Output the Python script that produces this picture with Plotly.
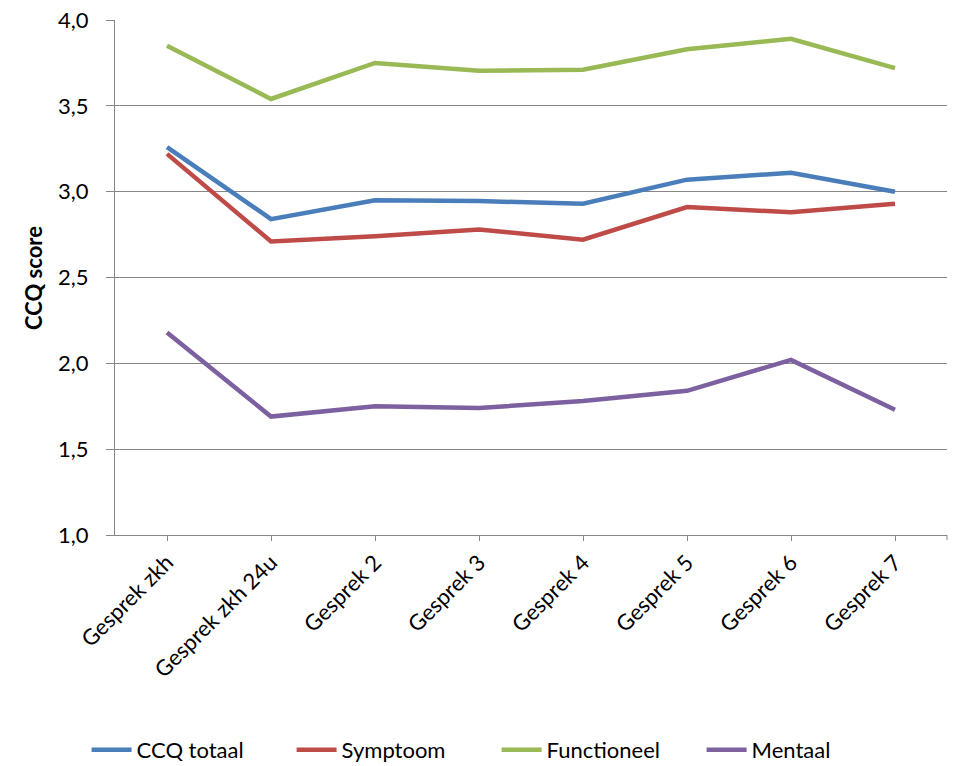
import plotly.graph_objects as go

# Conversation moments (x categories)
moments = ["Gesprek zkh", "Gesprek zkh 24u", "Gesprek 2", "Gesprek 3",
           "Gesprek 4", "Gesprek 5", "Gesprek 6", "Gesprek 7"]

# Mean CCQ scores per domain
ccq_totaal = [3.26, 2.84, 2.95, 2.945, 2.93, 3.07, 3.11, 3.00]
symptoom = [3.22, 2.71, 2.74, 2.78, 2.72, 2.91, 2.88, 2.93]
functioneel = [3.85, 3.54, 3.75, 3.705, 3.71, 3.83, 3.89, 3.72]
mentaal = [2.18, 1.69, 1.75, 1.74, 1.78, 1.84, 2.02, 1.73]

y_ticks = [1.0, 1.5, 2.0, 2.5, 3.0, 3.5, 4.0]
y_tick_labels = ["1,0", "1,5", "2,0", "2,5", "3,0", "3,5", "4,0"]

series = [
    ("CCQ totaal", ccq_totaal, "#4A7EBB"),
    ("Symptoom", symptoom, "#BE4B48"),
    ("Functioneel", functioneel, "#98B954"),
    ("Mentaal", mentaal, "#7D60A0"),
]

FONT = "Lato, Calibri, Arial, sans-serif"
GRID = "#868686"

fig = go.Figure()
for name, values, color in series:
    fig.add_trace(go.Scatter(
        x=moments, y=values, name=name, mode="lines",
        line=dict(color=color, width=4.5),
    ))

fig.update_layout(
    width=955, height=766,
    margin=dict(l=115, r=8, t=20, b=231),
    paper_bgcolor="white", plot_bgcolor="white",
    font=dict(family=FONT, size=22, color="black"),
    showlegend=True,
    legend=dict(
        orientation="h",
        xref="container", x=0.52, xanchor="center",
        yref="container", y=0.021, yanchor="middle",
        font=dict(family=FONT, size=22),
        itemwidth=40, entrywidth=150, entrywidthmode="pixels",
        tracegroupgap=0,
    ),
)

fig.update_xaxes(
    type="category", range=[-0.5, 7.5], automargin=False,
    showgrid=False, showline=True, linecolor=GRID, linewidth=1,
    ticks="outside", ticklen=5, tickcolor=GRID, tickwidth=1,
    tickangle=-45, tickfont=dict(family=FONT, size=22),
    fixedrange=True,
)

fig.update_yaxes(
    range=[1.0, 4.0], tickvals=y_ticks, ticktext=y_tick_labels,
    automargin=False,
    showgrid=True, gridcolor=GRID, gridwidth=1,
    showline=True, linecolor=GRID, linewidth=1,
    ticks="outside", ticklen=8, tickcolor=GRID, tickwidth=1,
    tickfont=dict(family=FONT, size=22), ticklabelstandoff=13,
    zeroline=False,
    fixedrange=True,
)

# y-axis title
fig.add_annotation(
    text="<b>CCQ score</b>", textangle=-90,
    xref="paper", x=-0.098, xanchor="center",
    yref="paper", y=0.5, yanchor="middle",
    showarrow=False, font=dict(family=FONT, size=22),
)

# closing tick mark at the right end of the category axis
fig.add_shape(
    type="line", xref="paper", x0=1, x1=1,
    yref="paper", ysizemode="pixel", yanchor=0, y0=0, y1=-5,
    line=dict(color=GRID, width=1),
)

fig.write_html("out.html")
